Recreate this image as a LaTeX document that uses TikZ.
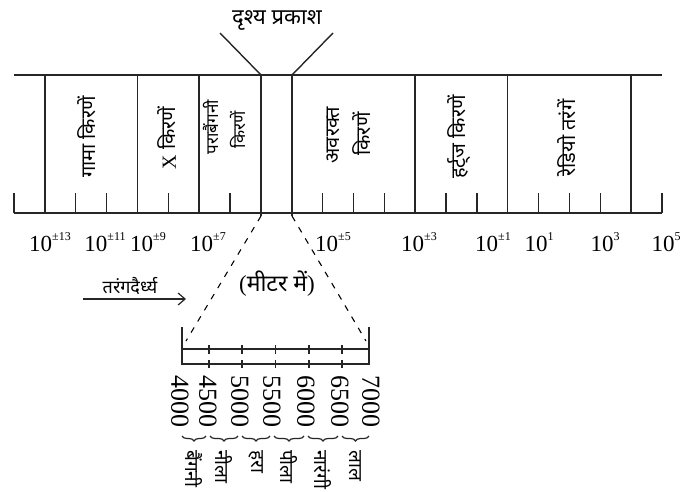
\documentclass[tikz,border=0pt]{standalone}
\usepackage{fontspec}
\setmainfont{Liberation Serif}
\newfontfamily\dev[Script=Devanagari]{Noto Sans}
\usetikzlibrary{decorations.pathreplacing,arrows.meta}
\newcommand{\sx}[1]{\raisebox{0.5em}{\fontsize{12}{12}\selectfont #1}}
\begin{document}
\begin{tikzpicture}[x=1pt,y=-1pt,
  ln/.style={line width=1.4pt, black!85},
  thin/.style={line width=1.2pt, black!85},
  band/.style={rotate=90, font=\dev\fontsize{20}{22}\selectfont, inner sep=0pt},
  bandsm/.style={rotate=90, font=\dev\fontsize{17}{18}\selectfont, inner sep=0pt},
  exlab/.style={font=\fontsize{23}{24}\selectfont, inner sep=0pt},
  numlab/.style={rotate=-90, anchor=west, font=\fontsize{26}{27}\selectfont, inner sep=0pt},
  collab/.style={rotate=-90, anchor=west, font=\dev\fontsize{19}{20}\selectfont, inner sep=0pt},
  brc/.style={thin, decorate, decoration={brace, amplitude=5pt}},
  dsh/.style={line width=1.1pt, dash pattern=on 6pt off 7pt}
]
\useasboundingbox (0,0) rectangle (682,492);
% main band
\coordinate (tl) at (14,75); \coordinate (tr) at (662,75);
\coordinate (bl) at (14,213); \coordinate (br) at (662,213);
\draw[ln] (tl) -- (tr);
\draw[ln] (bl) -- (br);
\foreach \i in {0,2,3,5,7,10,11,12,14,15,17,18,19,21}{
  \draw[ln] ({14+\i*30.857},193) -- ({14+\i*30.857},213);
}
\foreach \i in {1,4,6,13,16,20}{
  \draw[ln] ({14+\i*30.857},75) -- ({14+\i*30.857},213);
}
\coordinate (vl) at (261,75); \coordinate (vr) at (292,75);
\coordinate (vlb) at (261,216); \coordinate (vrb) at (292,216);
\draw[ln] (vl) -- (vlb);
\draw[ln] (vr) -- (vrb);
% band labels
\node[band] (gamma) at (87,137) {गामा किरणें};
\node[band] (xray) at (167,138) {\rmfamily X \dev किरणें};
\node[bandsm] (uv1) at (211,127) {पराबैंगनी};
\node[bandsm] (uv2) at (238,130) {किरणें};
\node[band] (ir1) at (333,135) {अवरक्त};
\node[band] (ir2) at (362,134) {किरणें};
\node[band] (hz) at (459,137) {हर्ट्ज किरणें};
\node[band] (radio) at (567,138) {रेडियो तरंगें};
% visible light label
\node[font=\dev\fontsize{22}{24}\selectfont, inner sep=0pt] (vis) at (277,20) {दृश्य प्रकाश};
\coordinate (va) at (220,33); \coordinate (vb) at (333,33);
\draw[ln] (va) -- (vl);
\draw[ln] (vb) -- (vr);
% exponent labels
\node[exlab] (e1) at (50,242) {10\sx{±13}};
\node[exlab] (e2) at (105,242) {10\sx{±11}};
\node[exlab] (e3) at (148,242) {10\sx{±9}};
\node[exlab] (e4) at (208,242) {10\sx{±7}};
\node[exlab] (e5) at (333,242) {10\sx{±5}};
\node[exlab] (e6) at (419,242) {10\sx{±3}};
\node[exlab] (e7) at (493,242) {10\sx{±1}};
\node[exlab] (e8) at (539,242) {10\sx{1}};
\node[exlab] (e9) at (605,242) {10\sx{3}};
\node[exlab] (e10) at (666,242) {10\sx{5}};
% wavelength arrow
\node[font=\dev\fontsize{18}{20}\selectfont, inner sep=0pt] (wl) at (130,286) {तरंगदैर्ध्य};
\coordinate (wa) at (83,299); \coordinate (wb) at (186,299);
\draw[thin, -{Straight Barb[length=7pt,width=12pt]}] (wa) -- (wb);
\node[font=\fontsize{23}{24}\selectfont, inner sep=0pt] (unit) at (277,284) {(\dev मीटर में\rmfamily )};
% dashed zoom lines
\coordinate (dl) at (186,341); \coordinate (dr) at (366,341);
\draw[dsh] (vlb) -- (dl);
\draw[dsh] (vrb) -- (dr);
% small scale
\coordinate (s0t) at (182,327); \coordinate (s0b) at (182,365);
\coordinate (s6t) at (369,327); \coordinate (s6b) at (369,365);
\draw[thin] (s0t) -- (s0b);
\draw[thin] (s6t) -- (s6b);
\draw[thin] (182,349) -- (369,349);
\draw[thin] (182,364) -- (369,364);
\foreach \x in {209,242,275.5,309,342}{
  \draw[thin] (\x,345) -- (\x,354);
  \draw[thin] (\x,360) -- (\x,368);
}
% numbers
\node[numlab] (n0) at (180,375) {4000};
\node[numlab] (n1) at (208,375) {4500};
\node[numlab] (n2) at (240,375) {5000};
\node[numlab] (n3) at (272,375) {5500};
\node[numlab] (n4) at (306,375) {6000};
\node[numlab] (n5) at (340,375) {6500};
\node[numlab] (n6) at (371,375) {7000};
% braces
\draw[brc] (206,436) -- (182,436);
\draw[brc] (238,436) -- (210,436);
\draw[brc] (270,436) -- (242,436);
\draw[brc] (304,436) -- (274,436);
\draw[brc] (338,436) -- (308,436);
\draw[brc] (369,436) -- (342,436);
% colour names
\node[collab] (c1) at (194,450) {बैंगनी};
\node[collab] (c2) at (224,450) {नीला};
\node[collab] (c3) at (256,450) {हरा};
\node[collab] (c4) at (289,450) {पीला};
\node[collab] (c5) at (323,450) {नारंगी};
\node[collab] (c6) at (355,450) {लाल};
\end{tikzpicture}
\end{document}
